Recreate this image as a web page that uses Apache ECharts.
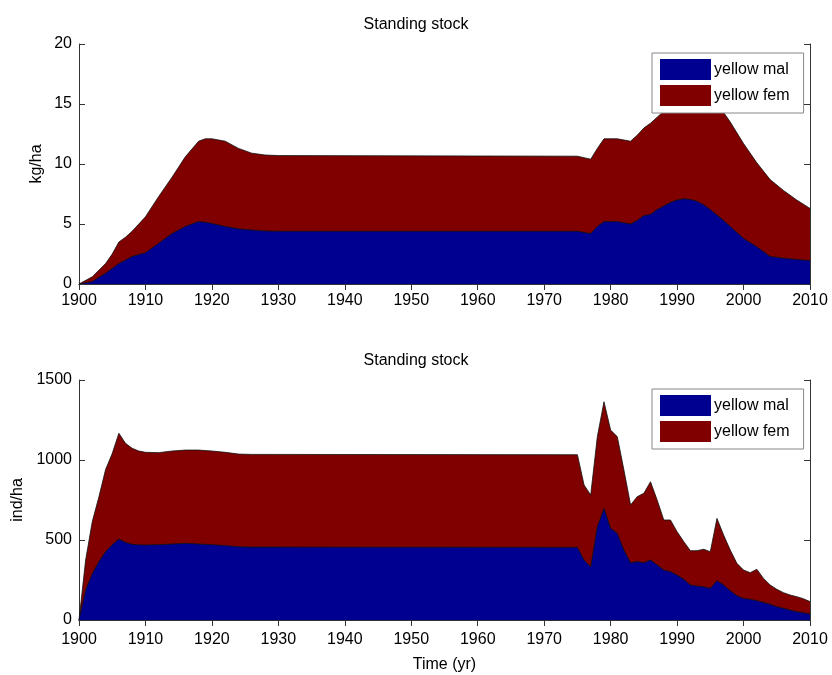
<!DOCTYPE html>
<html>
<head>
<meta charset="utf-8">
<script src="https://cdn.jsdelivr.net/npm/echarts@6/dist/echarts.min.js"></script>
<style>
  html, body { margin: 0; padding: 0; background: #fff; }
  #main { width: 832px; height: 675px; }
</style>
</head>
<body>
<div id="main"></div>
<script>
// 上图：生物量 kg/ha
const massYears = [1900,1902,1904,1905,1906,1907,1908,1909,1910,1912,1914,1916,1918,1919,1920,1922,1924,1926,1928,1930,
  1975,1977,1978,1979,1981,1983,1984,1985,1986,1987,1988,1989,1990,1991,1992,1993,1994,1995,1996,1997,1998,2000,2002,2004,2006,2008,2010];
const massMal = [0,0.2,0.9,1.3,1.7,2.0,2.3,2.45,2.6,3.4,4.2,4.8,5.2,5.15,5.05,4.8,4.6,4.5,4.42,4.4,
  4.4,4.2,4.8,5.2,5.2,5.0,5.3,5.7,5.8,6.2,6.5,6.8,7.0,7.1,7.05,6.9,6.6,6.2,5.75,5.3,4.8,3.8,3.1,2.3,2.15,2.05,1.95];
const massFem = [0,0.4,0.8,1.2,1.8,1.9,2.1,2.55,3.0,3.9,4.7,5.8,6.7,6.95,7.05,7.1,6.7,6.4,6.33,6.3,
  6.25,6.2,6.5,6.9,6.9,6.9,7.1,7.3,7.6,7.7,7.9,8.2,8.5,8.8,9.05,9.1,9.1,9.1,9.15,9.0,8.7,7.9,7.0,6.4,5.65,4.95,4.35];

// 下图：个体数 ind/ha
const indYears = [1900,1901,1902,1903,1904,1905,1906,1907,1908,1909,1910,1912,1914,1916,1918,1920,1922,1924,1926,
  1975,1976,1977,1978,1979,1980,1981,1982,1983,1984,1985,1986,1987,1988,1989,1990,1991,1992,1993,1994,1995,
  1996,1997,1998,1999,2000,2001,2002,2003,2004,2005,2006,2007,2008,2009,2010];
const indMal = [0,187,290,365,427,470,506,485,473,470,469,471,475,479,475,471,465,458,456,
  454,375,333,583,698,573,542,437,358,365,358,375,344,312,302,281,254,219,212,208,198,
  246,219,183,152,135,129,121,110,98,83,73,62,52,46,37];
const indFem = [0,188,325,405,513,570,661,619,600,586,579,575,581,583,587,585,583,579,579,
  579,469,448,563,666,614,604,500,361,406,434,489,406,313,323,271,236,214,221,234,229,
  389,312,254,202,177,167,196,150,121,109,98,94,94,87,78];

const names = ['yellow mal', 'yellow fem'];
const colors = ['#000090', '#800000'];
const font = 'Liberation Sans, Arial, sans-serif';

// 堆叠：雌性画在 mal+fem 的高度，放在下层
function pairs(xs, ys, base) {
  return xs.map((x, i) => [x, base ? ys[i] + base[i] : ys[i]]);
}

function xAx(gi, pos, showLabel, margin, name) {
  return {
    type: 'value', gridIndex: gi, position: pos,
    min: 1900, max: 2010, interval: 10,
    name: name || '', nameLocation: 'middle', nameGap: 37, nameMoveOverlap: false,
    nameTextStyle: { color: '#000', fontSize: 16, fontFamily: font },
    axisLine: { show: true, lineStyle: { color: '#333', width: 1 } },
    axisTick: { show: true, inside: true, length: 6, lineStyle: { color: '#333' } },
    axisLabel: { show: showLabel, color: '#000', fontSize: 16, fontFamily: font, margin: margin,
      formatter: v => String(v) },
    splitLine: { show: false }
  };
}

function yAx(gi, pos, max, interval, showLabel, name, gap) {
  return {
    type: 'value', gridIndex: gi, position: pos,
    min: 0, max: max, interval: interval,
    name: name || '', nameLocation: 'middle', nameGap: gap || 40, nameMoveOverlap: false,
    nameTextStyle: { color: '#000', fontSize: 16, fontFamily: font },
    axisLine: { show: true, lineStyle: { color: '#333', width: 1 } },
    axisTick: { show: true, inside: true, length: 6, lineStyle: { color: '#333' } },
    axisLabel: { show: showLabel, color: '#000', fontSize: 16, fontFamily: font, margin: 7,
      formatter: v => String(v) },
    splitLine: { show: false }
  };
}

function areaSeries(name, color, xi, yi, z, data) {
  return {
    name: name, type: 'line', z: z,
    xAxisIndex: xi, yAxisIndex: yi,
    data: data, showSymbol: false, symbol: 'none',
    lineStyle: { color: '#111', width: 0.8 },
    itemStyle: { color: color },
    areaStyle: { color: color, opacity: 1 }
  };
}

function legendBox(top) {
  return {
    orient: 'vertical', left: 652, top: top,
    data: names,
    itemWidth: 51, itemHeight: 21, itemGap: 5,
    padding: [6, 14, 7, 8],
    borderColor: '#888', borderWidth: 1, backgroundColor: '#fff',
    textStyle: { color: '#000', fontSize: 16, fontFamily: font, padding: [0, 0, 0, -2] },
    icon: 'rect',
    selectedMode: false
  };
}

const chart = echarts.init(document.getElementById('main'));
const option = {
  animation: false,
  backgroundColor: '#fff',
  color: colors,
  title: [
    { text: 'Standing stock', left: 'center', top: 12,
      textStyle: { color: '#000', fontSize: 16, fontWeight: 'normal', fontFamily: font } },
    { text: 'Standing stock', left: 'center', top: 348,
      textStyle: { color: '#000', fontSize: 16, fontWeight: 'normal', fontFamily: font } }
  ],
  legend: [legendBox(53), legendBox(389)],
  grid: [
    { left: 79, right: 22, top: 44, height: 240, outerBoundsMode: 'none', containLabel: false },
    { left: 79, right: 22, top: 380, height: 240, outerBoundsMode: 'none', containLabel: false }
  ],
  xAxis: [
    xAx(0, 'bottom', true, 9),
    xAx(0, 'top', false, 9),
    xAx(1, 'bottom', true, 12, 'Time (yr)'),
    xAx(1, 'top', false, 9)
  ],
  yAxis: [
    yAx(0, 'left', 20, 5, true, 'kg/ha', 34),
    yAx(0, 'right', 20, 5, false),
    yAx(1, 'left', 1500, 500, true, 'ind/ha', 53),
    yAx(1, 'right', 1500, 500, false)
  ],
  series: [
    areaSeries(names[0], colors[0], 0, 0, 3, pairs(massYears, massMal)),
    areaSeries(names[1], colors[1], 0, 0, 2, pairs(massYears, massFem, massMal)),
    areaSeries(names[0], colors[0], 2, 2, 3, pairs(indYears, indMal)),
    areaSeries(names[1], colors[1], 2, 2, 2, pairs(indYears, indFem, indMal))
  ]
};
chart.setOption(option);
</script>
</body>
</html>
